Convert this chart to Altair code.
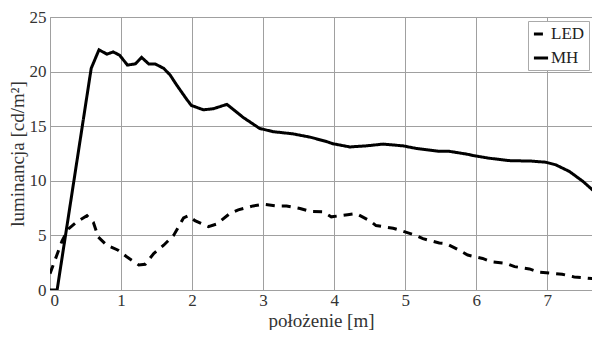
import altair as alt
import pandas as pd

mh_x = [0.0, 0.1, 0.58, 0.69, 0.80, 0.89, 0.98, 1.09, 1.20, 1.29, 1.39, 1.48, 1.60, 1.69, 1.78,
        1.92, 1.99, 2.16, 2.30, 2.49, 2.72, 2.95, 3.14, 3.42, 3.66, 3.89, 3.98, 4.22, 4.45, 4.69,
        4.97, 5.15, 5.48, 5.62, 5.86, 5.97, 6.18, 6.46, 6.79, 6.98, 7.12, 7.31, 7.50, 7.70]
mh_y = [0.0, 0.0, 20.3, 22.0, 21.6, 21.8, 21.5, 20.6, 20.7, 21.3, 20.7, 20.7, 20.3, 19.7, 18.8,
        17.5, 16.9, 16.5, 16.6, 17.0, 15.8, 14.8, 14.5, 14.3, 14.0, 13.6, 13.4, 13.1, 13.2, 13.36,
        13.2, 12.97, 12.7, 12.7, 12.45, 12.3, 12.07, 11.85, 11.8, 11.7, 11.46, 10.86, 9.96, 8.8]

led_x = [0.0, 0.17, 0.26, 0.38, 0.52, 0.61, 0.68, 0.80, 0.96, 1.08, 1.25, 1.34, 1.46, 1.60, 1.74,
         1.88, 1.95, 2.04, 2.23, 2.35, 2.53, 2.65, 2.86, 3.00, 3.19, 3.33, 3.52, 3.66, 3.84, 3.96,
         4.19, 4.31, 4.50, 4.59, 4.83, 4.94, 5.15, 5.25, 5.48, 5.58, 5.76, 5.88, 6.09, 6.21, 6.42,
         6.54, 6.75, 6.89, 7.07, 7.21, 7.38, 7.57, 7.70]
led_y = [1.5, 4.5, 5.6, 6.25, 6.8, 6.2, 4.85, 4.1, 3.64, 3.04, 2.29, 2.35, 3.34, 4.1, 5.0,
         6.6, 6.8, 6.35, 5.8, 6.05, 7.0, 7.34, 7.7, 7.85, 7.7, 7.7, 7.46, 7.2, 7.16, 6.7,
         6.9, 7.0, 6.35, 5.9, 5.66, 5.44, 5.0, 4.7, 4.3, 4.24, 3.64, 3.2, 2.89, 2.59, 2.44,
         2.14, 1.93, 1.62, 1.53, 1.44, 1.2, 1.08, 1.0]

df = pd.concat([
    pd.DataFrame({"x": led_x, "y": led_y, "s": "LED", "o": range(len(led_x))}),
    pd.DataFrame({"x": mh_x, "y": mh_y, "s": "MH", "o": range(len(mh_x))}),
])

font = "Times New Roman, Liberation Serif, serif"

chart = alt.Chart(df).mark_line(color="black", strokeWidth=3, clip=True).encode(
    x=alt.X("x:Q", scale=alt.Scale(domain=[0, 7.63], nice=False, zero=False),
            axis=alt.Axis(title="położenie [m]", values=[0, 1, 2, 3, 4, 5, 6, 7], format="d")),
    y=alt.Y("y:Q", scale=alt.Scale(domain=[0, 25], nice=False),
            axis=alt.Axis(title="luminancja [cd/m²]", values=[0, 5, 10, 15, 20, 25])),
    strokeDash=alt.StrokeDash("s:N", scale=alt.Scale(domain=["LED", "MH"], range=[[9, 7], [1, 0]]),
                              legend=alt.Legend(title=None, orient="none", legendX=478, legendY=4,
                                                symbolType="stroke", symbolStrokeWidth=3,
                                                symbolSize=200, symbolStrokeColor="black",
                                                labelFont=font, labelFontSize=17, labelColor="#222",
                                                labelOffset=1, rowPadding=7,
                                                strokeColor="#aaaaaa", fillColor="white",
                                                padding=4, cornerRadius=0)),
    order="o:Q",
).properties(
    width=542, height=273,
    autosize=alt.AutoSizeParams(type="none"),
    padding={"left": 42, "top": 9, "right": 0, "bottom": 40},
).configure(font=font).configure_axis(
    grid=True, gridColor="#a0a0a0", gridWidth=1, gridOpacity=1,
    domain=False, ticks=False,
    labelFont=font, labelFontSize=17, labelColor="#333", labelPadding=4,
    titleFont=font, titleFontSize=19, titleFontWeight="normal", titleColor="#333",
).configure_axisX(titlePadding=3, labelPadding=2).configure_axisY(titlePadding=2).configure_view(
    stroke="#a0a0a0", strokeWidth=1
)

chart.save("out.html", embed_options={"renderer": "svg", "actions": False})
